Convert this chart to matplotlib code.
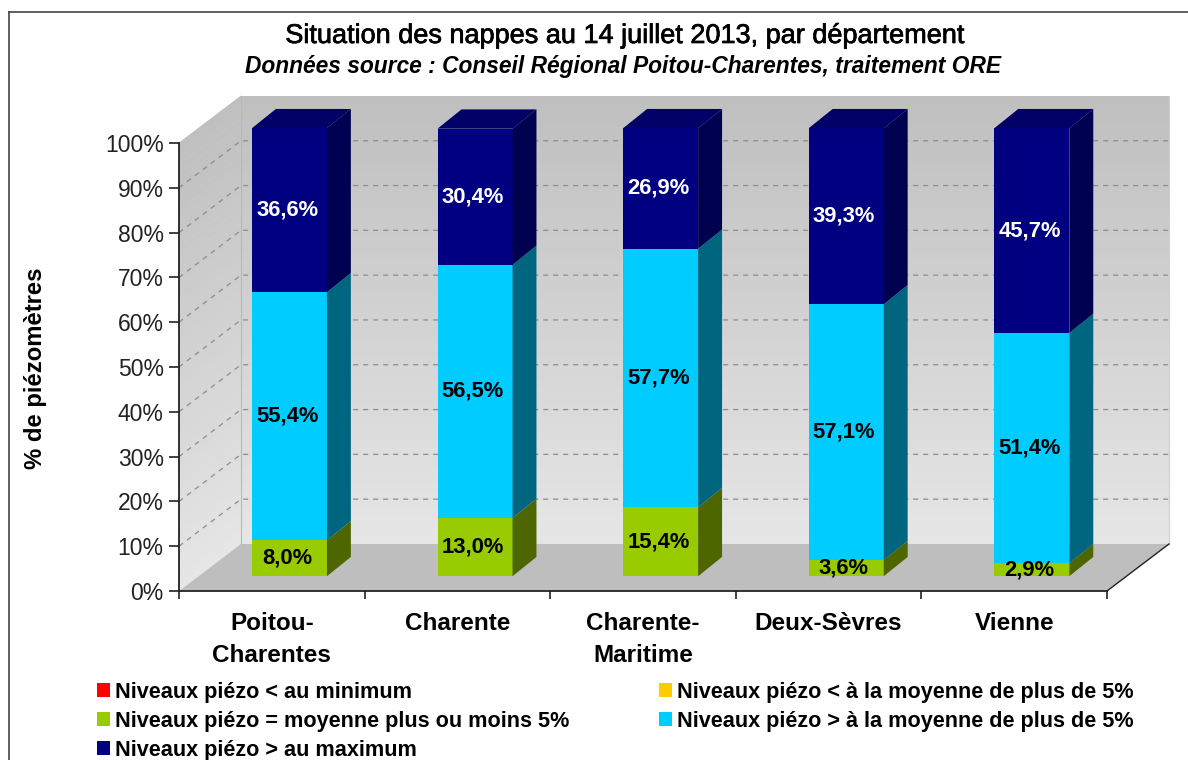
import numpy as np
import matplotlib
matplotlib.use('Agg')
import matplotlib.pyplot as plt
import matplotlib.patheffects as pe
from matplotlib.lines import Line2D

plt.rcParams['font.family'] = ['Liberation Sans', 'DejaVu Sans']

# Data
departements = ['Poitou-\nCharentes', 'Charente', 'Charente-\nMaritime', 'Deux-Sèvres', 'Vienne']
sous_minimum = [0, 0, 0, 0, 0]
sous_moyenne = [0, 0, 0, 0, 0]
autour_moyenne = [8.0, 13.0, 15.4, 3.6, 2.9]
sur_moyenne = [55.4, 56.5, 57.7, 57.1, 51.4]
sur_maximum = [36.6, 30.4, 26.9, 39.3, 45.7]
y_ticks = [0, 10, 20, 30, 40, 50, 60, 70, 80, 90, 100]
legend_labels = ['Niveaux piézo < au minimum', 'Niveaux piézo < à la moyenne de plus de 5%',
                 'Niveaux piézo = moyenne plus ou moins 5%', 'Niveaux piézo > à la moyenne de plus de 5%',
                 'Niveaux piézo > au maximum']

series = [sous_minimum, sous_moyenne, autour_moyenne, sur_moyenne, sur_maximum]
front_colors = ['#ff0000', '#ffcc00', '#99cc00', '#00ccff', '#000080']
side_colors = ['#800000', '#806600', '#4d6600', '#006680', '#000050']
top_color = '#000066'
text_colors = ['black', 'black', 'black', 'black', 'white']

W, H = 1188, 760
fig = plt.figure(figsize=(W / 100, H / 100), dpi=100, facecolor='white')
# plot area = front plane of the 3D box
ax = fig.add_axes([179 / W, 1 - 591 / H, 928 / W, 448 / H])
ax.set_xlim(0, 5)
ax.set_ylim(0, 100)
ax.patch.set_visible(False)

n = len(departements)
wall_dx, wall_dy = 0.334, 10.5
bar_dx, bar_dy = 0.129, 4.3
bar_left, bar_width = 0.393, 0.404
base = 3.3

# walls, banded for the grey gradient
bands = 60
for i in range(bands):
    y0 = 100 * i / bands
    y1 = 100 * (i + 1) / bands + 0.1
    g = 0.90 - 0.15 * i / (bands - 1)
    c = (g, g, g)
    ax.fill([wall_dx, 5 + wall_dx, 5 + wall_dx, wall_dx],
            [y0 + wall_dy, y0 + wall_dy, y1 + wall_dy, y1 + wall_dy],
            color=c, lw=0, clip_on=False, zorder=1)
    ax.fill([0, wall_dx, wall_dx, 0], [y0, y0 + wall_dy, y1 + wall_dy, y1],
            color=c, lw=0, clip_on=False, zorder=1)
# floor
ax.fill([0, 5, 5 + wall_dx, wall_dx], [0, 0, wall_dy, wall_dy], color='#bebebe', lw=0,
        clip_on=False, zorder=1.5)
ax.plot([wall_dx, wall_dx], [wall_dy, 100 + wall_dy], color='#b8b8b8', lw=0.8, clip_on=False, zorder=2)
ax.plot([5 + wall_dx] * 2, [wall_dy, 100 + wall_dy], color='#d0d0d0', lw=0.8, clip_on=False, zorder=2)
ax.plot([5, 5 + wall_dx], [0, wall_dy], color='#222222', lw=1, clip_on=False, zorder=2)

# dashed grid on both walls, the top edge has none
for t in y_ticks[1:-1]:
    ax.plot([0, wall_dx, 5 + wall_dx], [t, t + wall_dy, t + wall_dy], color='#8c8c8c', lw=0.9,
            dashes=(4, 4), clip_on=False, zorder=2)

# stacked bars
x = np.arange(n) + bar_left
bottoms = np.full(n, base)
handles = []
for vals, fc, sc, tc in zip(series, front_colors, side_colors, text_colors):
    vals = np.array(vals, dtype=float)
    bars = ax.bar(x, vals, bar_width, bottom=bottoms, color=fc, align='edge', lw=0, clip_on=False, zorder=4)
    handles.append(bars)
    for xi, b, v in zip(x, bottoms, vals):
        if v == 0:
            continue
        xr = xi + bar_width
        ax.fill([xr, xr + bar_dx, xr + bar_dx, xr], [b, b + bar_dy, b + v + bar_dy, b + v],
                color=sc, lw=0, clip_on=False, zorder=4)
        ax.text(xi + bar_width / 2 - 0.012, b + v / 2, f'{v:.1f}%'.replace('.', ','), color=tc,
                ha='center', va='center', fontsize=15.8, fontweight='bold', zorder=5)
    bottoms = bottoms + vals
for xi, b in zip(x, bottoms):
    ax.fill([xi, xi + bar_width, xi + bar_width + bar_dx, xi + bar_dx], [b, b, b + bar_dy, b + bar_dy],
            color=top_color, lw=0, clip_on=False, zorder=4)

# axes
for side in ['top', 'right']:
    ax.spines[side].set_visible(False)
for side in ['left', 'bottom']:
    ax.spines[side].set_color('#222222')
    ax.spines[side].set_linewidth(1.3)
    ax.spines[side].set_zorder(6)
ax.set_yticks(y_ticks)
ax.set_yticklabels([f'{t}%' for t in y_ticks], fontsize=16.5, color='#222222')
ax.tick_params(axis='y', length=7, width=1.2, color='#222222', pad=4)
ax.set_xticks(range(n + 1))
ax.set_xticklabels([])
ax.tick_params(axis='x', length=6, width=1.2, color='#222222')
ax.set_xticks(np.arange(n) + 0.5, minor=True)
ax.set_xticklabels(departements, minor=True, fontsize=17.5, fontweight='bold', linespacing=1.5)
ax.tick_params(axis='x', which='minor', length=0, pad=15)

fig.text(36 / W, 1 - 368 / H, '% de piézomètres', rotation=90, ha='center', va='center',
         fontsize=17.2, fontweight='bold')
title = fig.text(626 / W, 1 - 36 / H, 'Situation des nappes au 14 juillet 2013, par département',
                 ha='center', va='center', fontsize=19.5)
title.set_path_effects([pe.withStroke(linewidth=0.5, foreground='black')])
fig.text(623 / W, 1 - 66 / H, 'Données source : Conseil Régional Poitou-Charentes, traitement ORE',
         ha='center', va='center', fontsize=16.4, fontweight='bold', style='italic')

# legend: column-first order gives the chart's row layout
order = [0, 2, 4, 1, 3]
fig.legend([handles[i] for i in order], [legend_labels[i] for i in order], ncol=2, frameon=False,
           loc='upper left', bbox_to_anchor=(97 / W, 1 - 682 / H), borderaxespad=0, borderpad=0,
           prop={'size': 15.6, 'weight': 'bold'}, handlelength=0.6, handleheight=0.6,
           handletextpad=0.23, labelspacing=0.36, columnspacing=4.12)

# outer frame
fig.add_artist(Line2D([9 / W, 9 / W], [0, 1 - 12 / H], color='#444444', lw=1.2))
fig.add_artist(Line2D([9 / W, 1], [1 - 12 / H, 1 - 12 / H], color='#444444', lw=1.2))

plt.savefig('out.png', dpi=100)
